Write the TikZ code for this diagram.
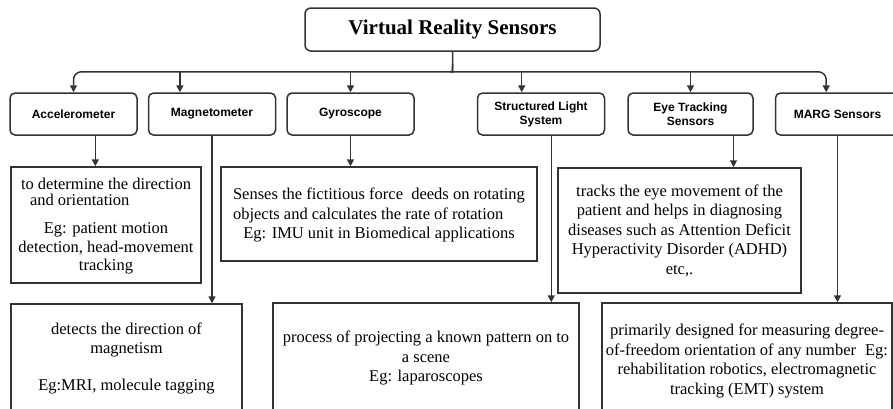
\documentclass[tikz,border=0pt]{standalone}
\usepackage{fontspec}
\setmainfont{Liberation Serif}
\newfontfamily\labelfont{Liberation Sans}
\usetikzlibrary{arrows.meta,calc,positioning}
\tikzstyle{headbox}=[draw=black!80, line width=1.5pt, rounded corners=6pt,
        minimum width=295pt, minimum height=43pt,
        font=\fontsize{21}{24}\selectfont\bfseries]
\tikzstyle{sensor}=[draw=black!80, line width=1.5pt, rounded corners=5pt,
        minimum width=127pt, minimum height=42pt, align=center, inner sep=1pt,
        font=\labelfont\fontsize{12}{14}\selectfont\bfseries]
\tikzstyle{infobox}=[draw=black!80, line width=1.5pt, align=center,
        inner xsep=2pt, inner ysep=0pt, font=\fontsize{16.5}{19.5}\selectfont]
\tikzstyle{conn}=[draw=black!80, line width=1.5pt]
\tikzstyle{arr}=[conn, -{Triangle[length=7pt,width=7pt]}]

\begin{document}
\begin{tikzpicture}[x=1pt, y=-1pt]
        \useasboundingbox (0,0) rectangle (893,408);
        \clip (0,0) rectangle (893,408);

        \node[headbox] (0) at (452.5,29.5) {Virtual Reality Sensors};

        \node[sensor] (1) at (73.5,114) {Accelerometer};
        \node[sensor, right=10pt of 1] (2) {Magnetometer};
        \node[sensor, right=10pt of 2] (3) {Gyroscope};
        \node[sensor, right=62pt of 3] (4) {Structured Light\\System};
        \node[sensor, minimum width=125pt, right=22pt of 4] (5) {Eye Tracking\\Sensors};
        \node[sensor, minimum width=124pt, right=21pt of 5] (6) {MARG Sensors};

        \node[infobox, minimum width=190pt, minimum height=116pt] (d1) at (106,225)
            {\begin{tabular}[b]{@{}l@{}}to determine the direction\\[-4pt]
            \hspace{9pt}and orientation\end{tabular}\\[9pt]
            Eg: patient motion\\[-1pt]detection, head-movement\\[-1pt]tracking};
        \node[infobox, minimum width=231pt, minimum height=108pt] (d2) at (126.5,358)
            {detects the direction of\\magnetism\\[17pt]Eg:MRI, molecule tagging};
        \node[infobox, minimum width=316pt, minimum height=94pt] (d3) at (379,214)
            {\begin{tabular}[b]{@{}l@{}}Senses the fictitious force\ \ deeds on rotating\\
            objects and calculates the rate of rotation\end{tabular}\\
            Eg: IMU unit in Biomedical applications};
        \node[infobox, minimum width=306pt, minimum height=110pt] (d4) at (426,358)
            {process of projecting a known pattern on to\\a scene\\Eg: laparoscopes};
        \node[infobox, minimum width=243pt, minimum height=125pt] (d5) at (679.5,230.5)
            {tracks the eye movement of the\\patient and helps in diagnosing\\
            diseases such as Attention Deficit\\Hyperactivity Disorder (ADHD)\\etc,.};
        \node[infobox, minimum width=290pt, minimum height=116pt, inner xsep=0pt] (d6)
            at (747,361)
            {primarily designed for measuring degree-\\
            of-freedom orientation of any number\hspace{9pt}Eg:\\
            rehabilitation robotics, electromagnetic\\tracking (EMT) system};

        \coordinate (fork) at ($(0.south)+(0,12)$);
        \coordinate (bus) at ($(0.south)+(0,20)$);
        \draw[arr, rounded corners=8pt] (0.south) -- (fork) .. controls (fork |- bus)
            .. ($(bus)+(-7,0)$) -| (1.north);
        \draw[arr, rounded corners=8pt] (fork) .. controls (fork |- bus)
            .. ($(bus)+(7,0)$) -| ($(6.north west)!0.41!(6.north east)$);

        \coordinate (in2) at ($(2.north west)!0.25!(2.north east)$);
        \coordinate (in4) at ($(4.north west)!0.35!(4.north east)$);
        \draw[arr] (in2 |- bus) -- (in2);
        \draw[arr] (3.north |- bus) -- (3.north);
        \draw[arr] (in4 |- bus) -- (in4);
        \draw[arr] (5.north |- bus) -- (5.north);

        \coordinate (out1) at ($(1.south west)!0.67!(1.south east)$);
        \coordinate (out4) at ($(4.south west)!0.58!(4.south east)$);
        \coordinate (out5) at ($(5.south west)!0.84!(5.south east)$);
        \draw[arr] (out1) -- (out1 |- d1.north);
        \draw[arr] (2.south) -- (2.south |- d2.north);
        \draw[arr] (3.south) -- (3.south |- d3.north);
        \draw[arr] (out4) -- (out4 |- d4.north);
        \draw[arr] (out5) -- (out5 |- d5.north);
        \draw[arr] (6.south) -- (6.south |- d6.north);
\end{tikzpicture}
\end{document}
